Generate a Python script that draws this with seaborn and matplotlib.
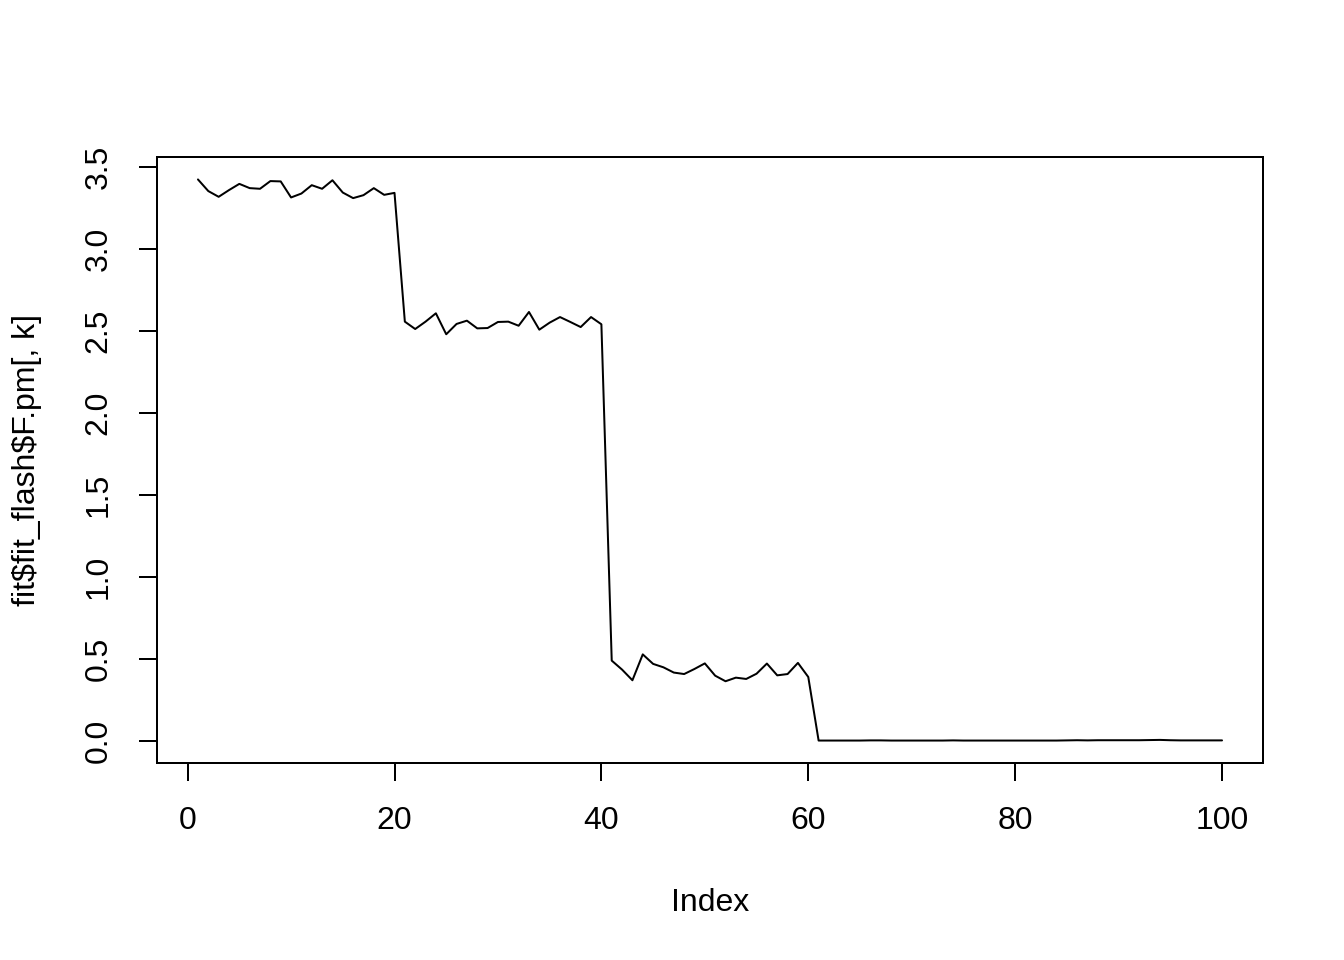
import numpy as np
import pandas as pd
import seaborn as sns
import matplotlib.pyplot as plt

# values, one per index 1..100
block1 = [3.425, 3.354, 3.319, 3.360, 3.398, 3.372, 3.368, 3.415, 3.413, 3.315,
          3.339, 3.390, 3.368, 3.420, 3.345, 3.311, 3.329, 3.372, 3.331, 3.343]
block2 = [2.557, 2.512, 2.557, 2.608, 2.480, 2.543, 2.563, 2.516, 2.518, 2.555,
          2.557, 2.532, 2.616, 2.508, 2.551, 2.585, 2.555, 2.524, 2.585, 2.541]
block3 = [0.488, 0.433, 0.368, 0.526, 0.468, 0.447, 0.415, 0.406, 0.437, 0.471,
          0.396, 0.362, 0.384, 0.376, 0.408, 0.470, 0.398, 0.406, 0.474, 0.388]
block4 = [0.000, 0.000, 0.000, 0.000, 0.000, 0.001, 0.001, 0.000, 0.000, 0.000,
          0.000, 0.000, 0.000, 0.001, 0.000, 0.000, 0.000, 0.000, 0.000, 0.000,
          0.000, 0.000, 0.000, 0.000, 0.001, 0.002, 0.001, 0.002, 0.002, 0.002,
          0.002, 0.002, 0.003, 0.004, 0.002, 0.001, 0.001, 0.001, 0.001, 0.001]
values = block1 + block2 + block3 + block4
index = list(range(1, len(values) + 1))

df = pd.DataFrame({"Index": index, "val": values})

sns.set_style("ticks")
plt.rcParams['font.family'] = ['Liberation Sans', 'DejaVu Sans']
plt.rcParams['text.color'] = 'black'
plt.rcParams['axes.labelcolor'] = 'black'
plt.rcParams['xtick.color'] = 'black'
plt.rcParams['ytick.color'] = 'black'

fig = plt.figure(figsize=(7, 5), dpi=192)
ax = fig.add_axes([157/1344, 1 - 763/960, (1263-157)/1344, (763-157)/960])
sns.lineplot(data=df, x="Index", y="val", color="black", linewidth=0.75, ax=ax)

ax.set_xlim(1 - 0.04*99, 100 + 0.04*99)
ymax = max(values)
ax.set_ylim(-0.04*ymax, ymax*1.04)
ax.set_xticks([0, 20, 40, 60, 80, 100])
ax.set_yticks(np.arange(0, 3.6, 0.5))
ax.set_yticklabels([f"{v:.1f}" for v in np.arange(0, 3.6, 0.5)], rotation=90, va="center")
ax.tick_params(direction="out", length=6.75, width=0.75, labelsize=12, pad=9.5,
               color="black", labelcolor="black")
for s in ax.spines.values():
    s.set_linewidth(0.75)
    s.set_color("black")
ax.set_xlabel("Index", fontsize=12, labelpad=19.5)
ax.set_ylabel(r"fit\$fit_flash\$F.pm[, k]", fontsize=12, labelpad=15.5)

fig.savefig("out.png", dpi=192, facecolor="white")
